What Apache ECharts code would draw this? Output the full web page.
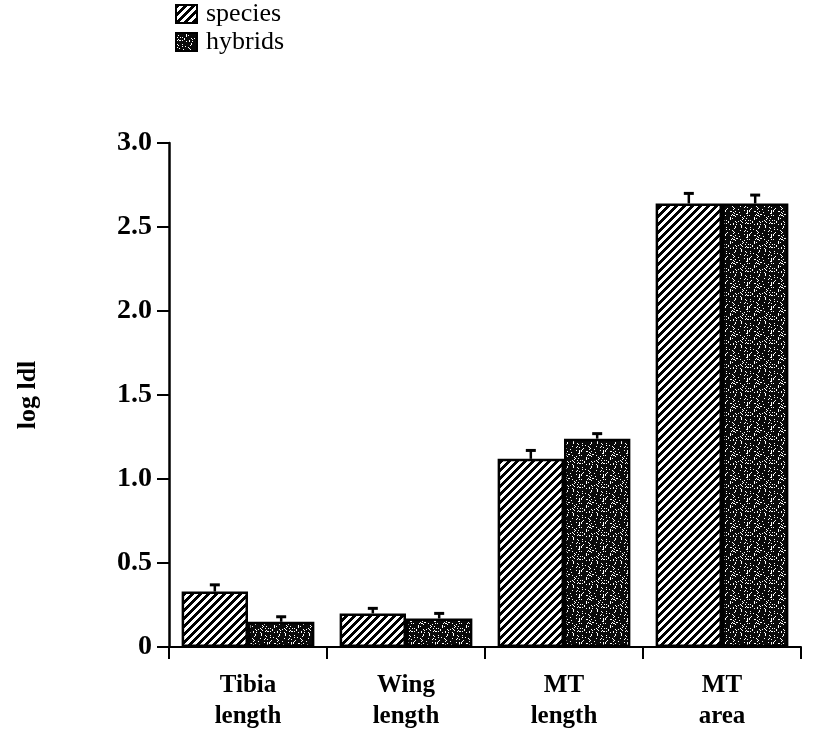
<!DOCTYPE html>
<html>
<head>
<meta charset="utf-8">
<script src="https://cdn.jsdelivr.net/npm/echarts@6/dist/echarts.min.js"></script>
<style>
  html, body { margin: 0; padding: 0; background: #fff; }
  #chart { width: 815px; height: 734px; }
</style>
</head>
<body>
<div id="chart"></div>
<script>
// Measured traits and their mean log |d| values
const categories = ['Tibia\nlength', 'Wing\nlength', 'MT\nlength', 'MT\narea'];
const seriesNames = ['species', 'hybrids'];
const speciesValues = [0.33, 0.20, 1.12, 2.64];
const hybridValues = [0.15, 0.17, 1.24, 2.64];
// upper end of each error bar
const speciesUpper = [0.37, 0.23, 1.17, 2.70];
const hybridUpper = [0.18, 0.20, 1.27, 2.69];
const yTicks = [0, 0.5, 1.0, 1.5, 2.0, 2.5, 3.0];

const FONT = '"Liberation Serif", "DejaVu Serif", serif';
const GAP = 0.16; // fraction of each category left empty

// Diagonal "///" hatch fill
function hatchPattern() {
  const c = document.createElement('canvas');
  c.width = 8; c.height = 8;
  const ctx = c.getContext('2d');
  ctx.fillStyle = '#fff';
  ctx.fillRect(0, 0, 8, 8);
  ctx.fillStyle = '#000';
  for (let y = 0; y < 8; y++) {
    for (let x = 0; x < 8; x++) {
      if ((x + y) % 8 < 4) ctx.fillRect(x, y, 1, 1);
    }
  }
  return { image: c, repeat: 'repeat' };
}

// Dense dark stipple fill
function stipplePattern() {
  const n = 24;
  const c = document.createElement('canvas');
  c.width = n; c.height = n;
  const ctx = c.getContext('2d');
  ctx.fillStyle = '#0a0a0a';
  ctx.fillRect(0, 0, n, n);
  ctx.fillStyle = '#fff';
  for (let y = 0; y < n; y++) {
    for (let x = 0; x < n; x++) {
      // integer hash for a fixed speckle layout
      let h = (x * 374761393 + y * 668265263) >>> 0;
      h = ((h ^ (h >>> 13)) * 1274126177) >>> 0;
      h = (h ^ (h >>> 16)) >>> 0;
      if (h % 100 < 15) ctx.fillRect(x, y, 1, 1);
    }
  }
  return { image: c, repeat: 'repeat' };
}

const hatch = hatchPattern();
const stipple = stipplePattern();

const chart = echarts.init(document.getElementById('chart'), null, { renderer: 'canvas' });

// Error bar: stem from bar top up to a short cap
function errorBarRenderer(means, uppers, side) {
  return function (params, api) {
    const i = api.value(0);
    const band = api.size([1, 0])[0];
    const barW = band * (1 - GAP) / 2;
    const base = api.coord([i, means[i]]);
    const top = api.coord([i, uppers[i]]);
    const x = base[0] + side * barW / 2;
    const capHalf = 5;
    return {
      type: 'group',
      children: [
        { type: 'line', shape: { x1: x, y1: base[1], x2: x, y2: top[1] },
          style: { stroke: '#000', lineWidth: 2.5 } },
        { type: 'line', shape: { x1: x - capHalf, y1: top[1], x2: x + capHalf, y2: top[1] },
          style: { stroke: '#000', lineWidth: 3 } }
      ]
    };
  };
}

const option = {
  backgroundColor: '#fff',
  animation: false,
  textStyle: { fontFamily: FONT, color: '#000' },
  legend: {
    orient: 'vertical',
    left: 170,
    top: -4,
    itemWidth: 21,
    itemHeight: 18,
    itemGap: 2,
    icon: 'rect',
    selectedMode: false,
    textStyle: { fontFamily: FONT, fontSize: 26, lineHeight: 22, color: '#000', padding: [0, 0, 0, 4] },
    data: [
      { name: 'species', itemStyle: { color: hatch, borderColor: '#000', borderWidth: 2 } },
      { name: 'hybrids', itemStyle: { color: stipple, borderColor: '#000', borderWidth: 2 } }
    ]
  },
  grid: { left: 169, top: 143, width: 632, bottom: 87, containLabel: false },
  xAxis: {
    type: 'category',
    data: categories,
    axisLine: { show: true, lineStyle: { color: '#000', width: 2 } },
    axisTick: { show: true, length: 12, lineStyle: { color: '#000', width: 2 } },
    axisLabel: {
      fontFamily: FONT, fontSize: 25, fontWeight: 'bold', color: '#000',
      margin: 23, lineHeight: 31
    },
    splitLine: { show: false }
  },
  yAxis: {
    type: 'value',
    min: 0,
    max: 3,
    interval: 0.5,
    name: 'log ldl',
    nameLocation: 'middle',
    nameRotate: 90,
    nameGap: 128,
    nameTextStyle: { fontFamily: FONT, fontSize: 26, fontWeight: 'bold', color: '#000' },
    axisLine: { show: true, lineStyle: { color: '#000', width: 2.5 } },
    axisTick: { show: true, length: 12, lineStyle: { color: '#000', width: 2 } },
    axisLabel: {
      fontFamily: FONT, fontSize: 28, fontWeight: 'bold', color: '#000', margin: 17,
      customValues: yTicks,
      formatter: v => (v === 0 ? '0' : v.toFixed(1))
    },
    splitLine: { show: false }
  },
  series: [
    {
      name: seriesNames[0], type: 'bar', data: speciesValues,
      barGap: '0%', barCategoryGap: (GAP * 100) + '%',
      itemStyle: { color: hatch, borderColor: '#000', borderWidth: 2.5 }
    },
    {
      name: seriesNames[1], type: 'bar', data: hybridValues,
      barGap: '0%', barCategoryGap: (GAP * 100) + '%',
      itemStyle: { color: stipple, borderColor: '#000', borderWidth: 2.5 }
    },
    {
      type: 'custom', name: 'species-err', z: 5,
      renderItem: errorBarRenderer(speciesValues, speciesUpper, -1),
      data: speciesUpper.map((v, i) => [i, v])
    },
    {
      type: 'custom', name: 'hybrids-err', z: 5,
      renderItem: errorBarRenderer(hybridValues, hybridUpper, 1),
      data: hybridUpper.map((v, i) => [i, v])
    }
  ]
};

chart.setOption(option);
</script>
</body>
</html>
